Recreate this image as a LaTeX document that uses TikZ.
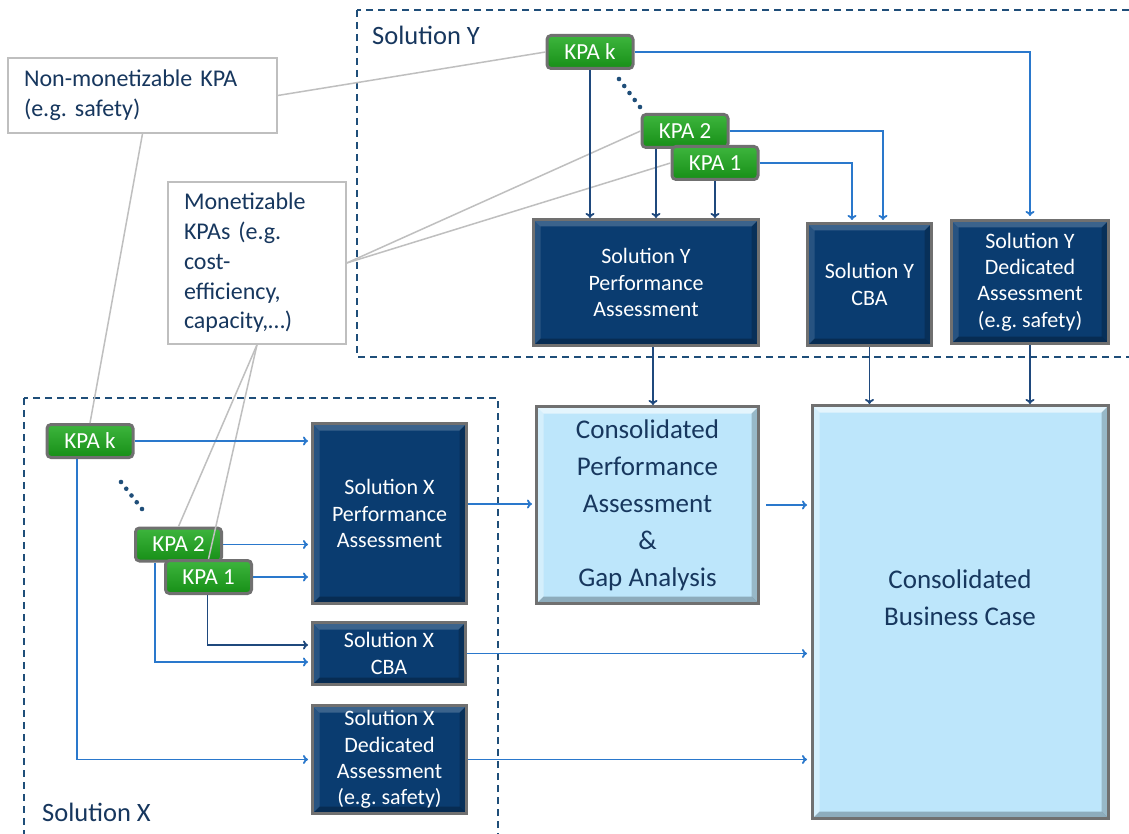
\documentclass[tikz,border=0pt]{standalone}
\usepackage{fontspec}
\setmainfont{Carlito}
\usetikzlibrary{arrows.meta,calc}
\definecolor{dkblue}{HTML}{0A3C70}
\definecolor{boxgray}{HTML}{707070}
\definecolor{ltblue}{HTML}{BDE6FB}
\definecolor{navy}{HTML}{17375E}
\definecolor{kgreen}{HTML}{178F17}
\definecolor{kgreenhi}{HTML}{3DB53D}
\definecolor{lline}{HTML}{2A78CC}
\definecolor{dline}{HTML}{1F497D}
\definecolor{callgray}{HTML}{BFBFBF}
\definecolor{dashblue}{HTML}{1F4E79}
\tikzset{
  bevel/.style={path picture={
    \fill[white,opacity=#1] (path picture bounding box.north west) -- (path picture bounding box.north east)
      -- ([shift={(-7pt,-7pt)}]path picture bounding box.north east) -- ([shift={(7pt,-7pt)}]path picture bounding box.north west) -- cycle;
    \fill[white,opacity=#1*0.6] (path picture bounding box.north west) -- (path picture bounding box.south west)
      -- ([shift={(7pt,7pt)}]path picture bounding box.south west) -- ([shift={(7pt,-7pt)}]path picture bounding box.north west) -- cycle;
    \fill[black,opacity=0.25] (path picture bounding box.south west) -- (path picture bounding box.south east)
      -- ([shift={(-7pt,7pt)}]path picture bounding box.south east) -- ([shift={(7pt,7pt)}]path picture bounding box.south west) -- cycle;
    \fill[black,opacity=0.2] (path picture bounding box.north east) -- (path picture bounding box.south east)
      -- ([shift={(-7pt,7pt)}]path picture bounding box.south east) -- ([shift={(-7pt,-7pt)}]path picture bounding box.north east) -- cycle;
  }},
  darkbox/.style={draw=boxgray, line width=3pt, fill=dkblue, text=white, align=center,
    inner sep=0pt, font=\fontsize{22}{26.3}\selectfont, bevel=0.2},
  lightbox/.style={draw=boxgray, line width=3pt, fill=ltblue, text=navy, align=center,
    inner sep=0pt, font=\fontsize{27}{37}\selectfont, bevel=0.6},
  kpa/.style={draw=boxgray, line width=3pt, rounded corners=4pt, top color=kgreenhi, bottom color=kgreen,
    text=white, minimum width=86pt, minimum height=33pt, inner sep=0pt, font=\fontsize{23}{26}\selectfont},
  callout/.style={draw=callgray, line width=1.5pt, fill=white, text=navy, align=left, inner ysep=0pt},
  cline/.style={draw=callgray, line width=1.5pt},
  larr/.style={draw=lline, line width=1.8pt, -{To[length=5pt,width=9pt]}},
  darr/.style={draw=dline, line width=1.8pt, -{To[length=5pt,width=9pt]}},
  region/.style={draw=dashblue, line width=2pt, dash pattern=on 7pt off 5pt},
  regionlabel/.style={text=navy, anchor=west, inner sep=0pt, font=\fontsize{26.5}{30}\selectfont},
}
\begin{document}
\frenchspacing
\begin{tikzpicture}[x=1pt,y=-1pt]
\useasboundingbox (0,0) rectangle (1129,834);
\clip (0,0) rectangle (1129,834);
\fill[white] (0,0) rectangle (1129,834);

% regions
\draw[region] (357,10) rectangle (1140,357);
\draw[region] (24,398) rectangle (498,850);
\node[regionlabel] (ylab) at (372,35) {Solution Y};
\node[regionlabel] (xlab) at (42,812) {Solution X};

% callouts
\node[callout, text width=237pt, inner xsep=16pt, minimum height=75pt, font=\fontsize{24}{30}\selectfont] (nm) at (142.5,95.5)
  {Non-monetizable KPA\\(e.g. safety)};
\node[callout, text width=146pt, inner xsep=16pt, minimum height=162pt, font=\fontsize{24}{29.8}\selectfont] (mon) at (257,263)
  {Monetizable\\KPAs (e.g.\\cost-\\efficiency,\\capacity,…)};

% Solution Y boxes
\node[darkbox, minimum width=225pt, minimum height=126pt] (sypa) at (646,282.5) {Solution Y\\Performance\\Assessment};
\node[darkbox, minimum width=124pt, minimum height=122pt] (sycba) at (869.5,284.5) {Solution Y\\CBA};
\node[darkbox, minimum width=157pt, minimum height=123pt] (sydd) at (1030,282) {Solution Y\\Dedicated\\Assessment\\(e.g. safety)};

% consolidated
\node[lightbox, minimum width=222pt, minimum height=197pt] (cpa) at (647.5,505) {Consolidated\\Performance\\Assessment\\\&\\Gap Analysis};
\node[lightbox, minimum width=296pt, minimum height=413pt] (cbc) at (960.5,612) {};
\node[text=navy, align=center, font=\fontsize{27}{37}\selectfont] (cbctext) at (960,598) {Consolidated\\Business Case};

% Solution X boxes
\node[darkbox, minimum width=154pt, minimum height=180pt] (sxpa) at (389.5,513.5) {Solution X\\Performance\\Assessment};
\node[darkbox, minimum width=153pt, minimum height=62pt] (sxcba) at (389,653.5) {Solution X\\CBA};
\node[darkbox, minimum width=154pt, minimum height=108pt] (sxdd) at (389.5,759.5) {Solution X\\Dedicated\\Assessment\\(e.g. safety)};

% KPA nodes Y
\node[kpa] (kky) at (590,52) {KPA k};
\node[kpa] (k2y) at (685,131) {KPA 2};
\node[kpa] (k1y) at (715,163) {KPA 1};
% KPA nodes X
\node[kpa] (kkx) at (90,441) {KPA k};
\node[kpa] (k2x) at (178.5,544.5) {KPA 2};
\node[kpa] (k1x) at (208.5,577) {KPA 1};

% dots
\foreach \i in {0,...,4} {
  \fill[dashblue] ($(619,79)!\i/4!(640,107)$) circle (2.3pt);
  \fill[dashblue] ($(121,482)!\i/4!(142,509)$) circle (2.3pt);
}

% callout connectors
\draw[cline] (nm.east) -- (kky.west);
\draw[cline] (nm.south) -- (kkx.north);
\draw[cline] (mon.east) -- (k2y.west);
\draw[cline] (mon.east) -- (k1y.west);
\draw[cline] (mon.south) -- (k2x.north);
\draw[cline] (mon.south) -- (k1x.north);

% Y arrows
\draw[darr] (kky.south) -- (kky.south |- sypa.north);
\draw[darr] ([xshift=-29pt]k2y.south) -- ([xshift=-29pt]k2y.south |- sypa.north);
\draw[darr] (k1y.south) -- (k1y.south |- sypa.north);
\draw[larr] (kky.east) -| ([yshift=3pt]sydd.north);
\draw[larr] (k2y.east) -| ([xshift=13.5pt,yshift=2pt]sycba.north);
\draw[larr] (k1y.east) -| ([xshift=-17.5pt,yshift=2pt]sycba.north);
\draw[darr] ([xshift=7pt]sypa.south) -- ([xshift=7pt]sypa.south |- cpa.north);
\draw[darr] (sycba.south) -- (sycba.south |- cbc.north);
\draw[darr] (sydd.south) -- (sydd.south |- cbc.north);

% X arrows
\draw[larr, shorten >=3pt] (kkx.east) -- (kkx.east -| sxpa.west);
\draw[larr, shorten >=3pt] (k2x.east) -- (k2x.east -| sxpa.west);
\draw[larr, shorten >=3pt] (k1x.east) -- (k1x.east -| sxpa.west);
\draw[darr, shorten >=3pt] ([xshift=-1pt]k1x.south) |- ([yshift=8.5pt]sxcba.west);
\draw[larr, shorten >=3pt] ([xshift=-23.5pt]k2x.south) |- ([yshift=-8.5pt]sxcba.west);
\draw[larr, shorten >=3pt] ([xshift=-13pt]kkx.south) |- (sxdd.west);
\draw[larr, shorten >=3pt] ([yshift=9.5pt]sxpa.east) -- ([yshift=9.5pt]sxpa.east -| cpa.west);
\draw[larr, shorten <=6pt, shorten >=4pt] (cpa.east) -- (cpa.east -| cbc.west);
\draw[larr, shorten >=4pt] (sxcba.east) -- (sxcba.east -| cbc.west);
\draw[larr, shorten >=4pt] (sxdd.east) -- (sxdd.east -| cbc.west);
\end{tikzpicture}
\end{document}
